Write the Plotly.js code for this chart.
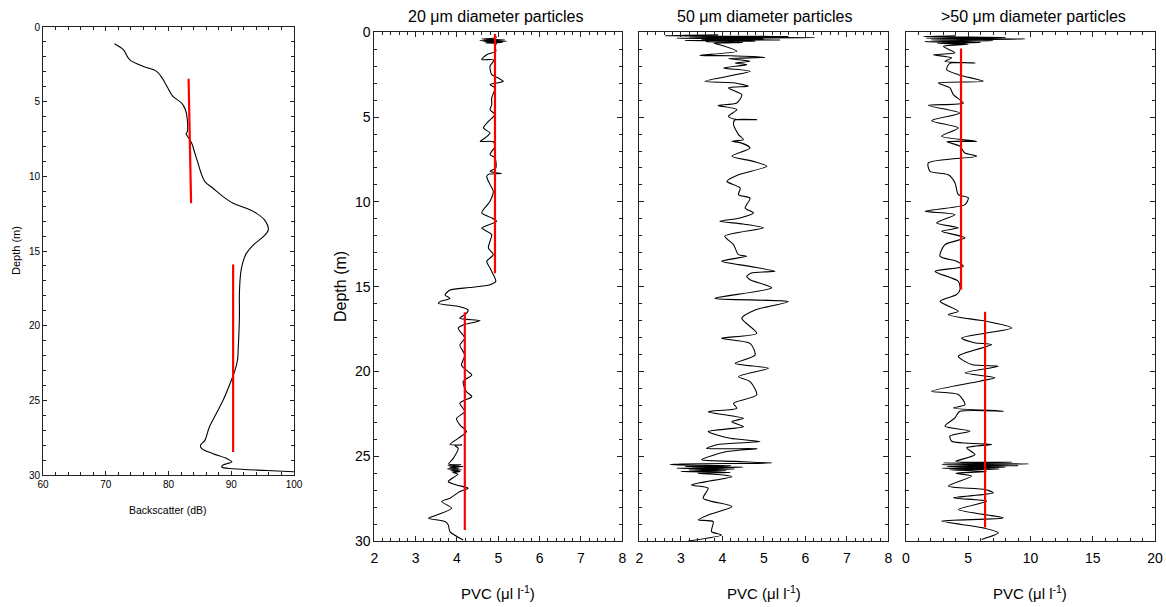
<!DOCTYPE html>
<html>
<head>
<meta charset="utf-8">
<script src="https://cdn.plot.ly/plotly-3.0.1.min.js"></script>
<style>html,body{margin:0;padding:0;background:#fff;} #chart{width:1166px;height:607px;}</style>
</head>
<body>
<div id="chart"></div>
<script>
// ---------------- DATA ----------------
// Panel 1: backscatter profile
const bsDepth = [1.12,1.52,2.19,2.64,2.97,3.42,4.09,4.65,5.10,5.54,6.20,7.00,7.15,7.30,7.78,8.45,9.12,9.79,10.35,10.80,11.36,11.80,12.14,12.47,12.92,13.59,14.04,14.60,15.16,15.83,16.50,17.84,19.40,21.64,22.30,22.98,23.88,25.00,25.90,26.80,27.68,28.00,28.24,28.57,28.90,29.13,29.24,29.35,29.47,29.58,29.70,29.78];
const bsValue = [71.4,72.8,73.8,76.0,78.1,79.0,79.9,80.7,82.1,82.7,83.0,83.0,82.8,83.0,83.7,84.2,84.7,85.2,85.8,87.1,88.7,90.3,92.4,94.0,95.3,95.9,95.1,93.5,92.4,91.8,91.5,91.3,91.3,91.1,91.0,90.6,89.8,88.7,87.6,86.5,85.8,85.1,85.3,87.1,89.3,90.1,89.3,88.6,88.5,90.3,95.6,100.0];
const bsFitTopDepth = [3.47, 11.8];
const bsFitTopValue = [83.2, 83.6];
const bsFitBotDepth = [15.9, 28.46];
const bsFitBotValue = [90.3, 90.3];

// Panel 2: 20 um particles
const d20 = [0.10,0.30,0.40,0.45,0.50,0.53,0.56,0.60,0.63,0.67,
  0.83,1.12,1.32,1.60,1.62,1.71,2.00,2.50,2.69,2.89,
  3.08,3.28,3.87,4.27,4.56,4.85,5.25,5.64,5.94,6.23,
  6.43,6.45,6.72,7.02,7.21,7.41,8.00,8.20,8.33,8.36,
  8.49,8.98,9.37,9.96,10.65,10.94,11.14,11.44,11.54,11.93,
  12.32,12.72,13.11,13.50,13.90,14.29,14.68,14.88,15.05,15.20,
  15.49,15.69,15.88,15.98,16.18,16.37,16.57,16.86,17.00,17.26,
  17.45,18.04,18.44,19.03,19.62,20.01,20.20,20.60,21.19,21.48,
  21.87,22.37,22.76,23.15,23.54,23.94,24.30,24.33,24.36,24.53,
  25.12,25.45,25.50,25.55,25.60,25.65,25.70,25.75,25.80,25.85,
  25.90,25.95,26.05,26.49,26.69,26.88,27.08,27.47,27.67,28.06,
  28.46,28.65,28.85,29.05,29.44,29.93];
const v20 = [4.90,4.95,4.60,5.15,4.55,5.20,4.65,5.10,4.70,4.95,
  4.92,4.94,4.72,4.60,4.88,4.88,4.80,4.84,5.00,5.12,
  4.80,4.92,4.84,4.84,4.80,4.92,4.76,4.64,4.80,4.68,
  4.56,4.88,4.92,4.84,4.80,4.92,4.94,4.80,5.08,4.78,
  4.72,4.80,4.88,4.80,4.60,4.84,4.96,4.68,4.60,4.84,
  4.80,4.76,4.88,4.72,4.80,4.88,4.94,4.80,4.30,3.83,
  3.71,3.83,3.59,3.55,4.07,4.27,4.23,4.07,4.56,4.15,
  4.03,4.19,4.07,4.19,4.11,4.27,4.36,4.15,4.23,4.36,
  4.07,4.19,3.99,4.07,4.23,4.03,3.83,4.12,3.95,4.03,
  3.91,3.80,4.10,3.78,4.15,3.82,4.05,3.77,4.12,3.85,
  4.08,3.90,4.02,3.79,3.99,4.27,4.07,3.83,3.63,3.87,
  3.51,3.31,3.71,3.79,3.83,4.15];
const fit20TopDepth = [0.1, 14.2];
const fit20TopValue = [4.92, 4.92];
const fit20BotDepth = [16.5, 29.35];
const fit20BotValue = [4.19, 4.19];

// Panel 3: 50 um particles
const d50 = [0.15,0.20,0.25,0.28,0.32,0.35,0.38,0.42,0.45,0.48,0.52,0.56,0.60,0.65,
  0.73,1.12,1.36,1.38,1.48,1.55,1.71,1.81,1.91,2.10,
  2.30,2.89,2.99,3.18,3.28,3.68,4.17,4.31,4.56,4.95,
  5.13,5.15,5.17,5.44,6.03,6.33,6.43,6.52,6.82,7.31,
  7.61,7.90,8.40,8.79,9.18,9.58,9.78,10.36,10.65,10.95,
  11.14,11.30,11.53,12.02,12.52,13.11,13.20,13.50,13.80,14.09,
  14.19,14.40,14.59,15.07,15.69,15.88,16.37,16.86,17.75,18.04,
  18.34,19.03,19.52,19.81,20.30,20.60,21.38,21.87,22.17,22.37,
  22.76,22.96,23.25,23.54,23.94,24.13,24.30,24.53,24.55,24.72,
  25.20,25.30,25.40,25.45,25.50,25.55,25.60,25.65,25.70,25.75,
  25.80,25.85,25.90,25.95,26.00,26.10,26.20,26.69,26.88,27.47,
  27.96,28.46,28.75,28.85,29.44,29.64,29.99];
const v50 = [3.90,2.62,5.60,3.20,6.23,2.90,5.00,3.50,5.40,3.10,4.80,3.60,4.50,3.80,
  3.94,4.35,3.46,4.20,5.03,4.15,4.67,4.31,4.59,4.03,
  4.67,3.58,4.31,4.63,4.15,4.47,4.35,3.90,4.35,4.15,
  4.31,4.83,4.30,4.27,4.39,4.51,4.23,4.45,4.67,4.23,
  4.75,5.07,4.39,4.11,4.43,4.39,4.67,4.55,4.75,4.43,
  3.94,4.50,4.99,4.06,4.27,4.39,4.59,3.98,4.67,5.27,
  4.70,4.59,4.67,5.19,3.82,5.59,4.79,4.47,4.83,3.98,
  4.67,4.79,4.31,5.11,4.39,4.67,4.83,4.27,4.35,3.66,
  4.51,4.23,4.51,3.66,4.19,4.91,3.90,3.62,4.85,4.11,
  3.50,4.30,5.19,3.00,2.74,4.20,3.10,4.50,2.90,4.30,
  3.20,4.10,3.00,4.20,3.40,4.00,4.23,3.26,3.66,3.54,
  4.23,3.66,3.42,3.78,3.74,3.98,3.18];

// Panel 4: >50 um particles
const dGt50 = [0.20,0.25,0.30,0.35,0.40,0.45,0.50,0.55,0.60,0.65,0.70,
  0.83,1.22,1.32,1.51,1.71,1.81,1.83,2.20,2.50,2.89,
  2.99,3.28,3.68,4.17,4.31,4.76,5.21,5.64,6.13,6.43,
  6.45,6.72,7.10,7.31,7.70,8.20,8.40,8.88,9.57,9.76,
  10.16,10.55,10.75,11.24,11.53,11.73,12.12,12.52,13.20,13.50,
  13.80,14.10,14.68,15.17,15.46,15.86,16.45,16.65,16.94,17.04,
  17.43,18.02,18.30,18.41,19.10,19.59,19.69,20.08,20.37,20.57,
  21.16,21.36,21.95,22.15,22.34,22.36,22.73,23.22,23.52,23.81,
  24.11,24.30,24.50,24.90,25.30,25.35,25.40,25.45,25.50,25.55,
  25.60,25.65,25.70,25.75,25.80,25.90,26.00,26.17,26.76,26.96,
  27.16,27.45,27.65,28.14,28.63,28.82,29.22,29.51,29.90];
const vGt50 = [4.00,1.40,8.00,1.60,9.56,2.00,7.00,1.50,6.00,2.50,5.00,
  3.00,3.94,2.20,3.67,3.13,5.54,3.50,3.27,4.20,6.21,
  2.60,3.53,3.80,4.60,1.79,4.34,2.06,4.20,2.86,5.68,
  3.30,4.34,4.70,5.68,1.79,1.93,3.40,3.94,4.20,5.00,
  4.74,1.53,3.94,2.46,4.20,2.86,4.74,3.13,2.73,4.07,
  4.60,2.33,4.20,4.34,4.07,2.73,4.20,3.40,5.54,6.48,
  8.49,4.47,5.50,6.88,4.20,5.27,7.42,4.74,7.15,5.94,
  2.06,4.20,4.74,3.80,7.82,4.30,3.94,3.13,5.14,3.53,
  3.67,6.88,4.87,5.54,4.00,8.50,3.00,9.83,2.87,9.00,
  3.30,8.00,2.90,7.50,3.50,6.50,4.00,5.27,3.40,6.35,
  7.01,3.80,6.48,4.20,7.82,2.86,6.21,7.42,6.08];
const fitGt50TopDepth = [0.96, 15.17];
const fitGt50TopValue = [4.42, 4.42];
const fitGt50BotDepth = [16.48, 29.2];
const fitGt50BotValue = [6.35, 6.35];

const panelTitles = ["20 μm diameter particles", "50 μm diameter particles", ">50 μm diameter particles"];
const depthLabel = "Depth (m)";
const bsLabel = "Backscatter (dB)";
const pvcLabel = "PVC (μl l<sup>-1</sup>)";

// ---------------- TRACES ----------------
const FONT = "Liberation Sans, Arial, sans-serif";
const blk = {color:'#000', width:1.1, shape:'spline', smoothing:0.7};
const blkSmooth = {color:'#000', width:1.1, shape:'spline', smoothing:1};
const red = {color:'#ff0000', width:2.2};
function line(x, y, xa, ya, ln){ return {x:x, y:y, xaxis:xa, yaxis:ya, mode:'lines', line:ln, hoverinfo:'skip', showlegend:false}; }

const traces = [
  line(bsValue, bsDepth, 'x', 'y', blkSmooth),
  line(bsFitTopValue, bsFitTopDepth, 'x', 'y', red),
  line(bsFitBotValue, bsFitBotDepth, 'x', 'y', red),
  line(v20, d20, 'x2', 'y2', blk),
  line(fit20TopValue, fit20TopDepth, 'x2', 'y2', red),
  line(fit20BotValue, fit20BotDepth, 'x2', 'y2', red),
  line(v50, d50, 'x3', 'y3', blk),
  line(vGt50, dGt50, 'x4', 'y4', blk),
  line(fitGt50TopValue, fitGt50TopDepth, 'x4', 'y4', red),
  line(fitGt50BotValue, fitGt50BotDepth, 'x4', 'y4', red)
];

// ---------------- LAYOUT ----------------
const W = 1166, H = 607;
function px(x){ return x / W; }
function py(y){ return 1 - y / H; }

function ax(o){
  const base = {showline:true, linecolor:'#222', linewidth:1, mirror:'ticks', ticks:'inside',
    ticklen:5, tickwidth:1, tickcolor:'#222', showgrid:false, zeroline:false, fixedrange:true,
    tickfont:{family:FONT, size:14, color:'#000'}};
  return Object.assign(base, o);
}
function minor(dt, len){ return {ticks:'inside', dtick:dt, ticklen:len, tickcolor:'#222', tickwidth:1, showgrid:false}; }

const small = {family:FONT, size:10, color:'#000'};

const layout = {
  width:W, height:H, margin:{l:0,r:0,t:0,b:0}, paper_bgcolor:'#fff', plot_bgcolor:'#fff',
  showlegend:false,
  xaxis: ax({domain:[px(43), px(294)], range:[60,100], tick0:60, dtick:10, anchor:'y', tickfont:small, ticklen:4, minor:minor(2,3)}),
  yaxis: ax({domain:[py(475), py(27)], range:[30,0], tick0:0, dtick:5, anchor:'x', tickfont:small, ticklen:4, minor:minor(1,3)}),
  xaxis2: ax({domain:[px(374.3), px(622.3)], range:[2,8], tick0:2, dtick:1, anchor:'y2', ticklabelstandoff:4, minor:minor(0.2,3)}),
  yaxis2: ax({domain:[py(541.1), py(32.3)], range:[30,0], tick0:0, dtick:5, anchor:'x2', minor:minor(1,3)}),
  xaxis3: ax({domain:[px(639.3), px(888.3)], range:[2,8], tick0:2, dtick:1, anchor:'y3', ticklabelstandoff:4, minor:minor(0.2,3)}),
  yaxis3: ax({domain:[py(541.1), py(32.3)], range:[30,0], tick0:0, dtick:5, anchor:'x3', showticklabels:false, minor:minor(1,3)}),
  xaxis4: ax({domain:[px(906), px(1155)], range:[0,20], tick0:0, dtick:5, anchor:'y4', ticklabelstandoff:4, minor:minor(1,3)}),
  yaxis4: ax({domain:[py(541.1), py(32.3)], range:[30,0], tick0:0, dtick:5, anchor:'x4', showticklabels:false, minor:minor(1,3)}),
  annotations: [
    {text:panelTitles[0], x:px(496), y:py(17), xref:'paper', yref:'paper', showarrow:false, xanchor:'center', yanchor:'middle', font:{family:FONT, size:16, color:'#000'}},
    {text:panelTitles[1], x:px(765), y:py(17), xref:'paper', yref:'paper', showarrow:false, xanchor:'center', yanchor:'middle', font:{family:FONT, size:16, color:'#000'}},
    {text:panelTitles[2], x:px(1033), y:py(17), xref:'paper', yref:'paper', showarrow:false, xanchor:'center', yanchor:'middle', font:{family:FONT, size:16, color:'#000'}},
    {text:depthLabel, x:px(16), y:py(251), xref:'paper', yref:'paper', showarrow:false, textangle:-90, xanchor:'center', yanchor:'middle', font:{family:FONT, size:11, color:'#000'}},
    {text:bsLabel, x:px(168), y:py(510), xref:'paper', yref:'paper', showarrow:false, xanchor:'center', yanchor:'middle', font:{family:FONT, size:10.5, color:'#000'}},
    {text:depthLabel, x:px(340), y:py(287), xref:'paper', yref:'paper', showarrow:false, textangle:-90, xanchor:'center', yanchor:'middle', font:{family:FONT, size:16, color:'#000'}},
    {text:pvcLabel, x:px(498), y:py(592), xref:'paper', yref:'paper', showarrow:false, xanchor:'center', yanchor:'middle', font:{family:FONT, size:15, color:'#000'}},
    {text:pvcLabel, x:px(764), y:py(592), xref:'paper', yref:'paper', showarrow:false, xanchor:'center', yanchor:'middle', font:{family:FONT, size:15, color:'#000'}},
    {text:pvcLabel, x:px(1030), y:py(592), xref:'paper', yref:'paper', showarrow:false, xanchor:'center', yanchor:'middle', font:{family:FONT, size:15, color:'#000'}}
  ]
};

Plotly.newPlot('chart', traces, layout, {staticPlot:true, displayModeBar:false});
</script>
</body>
</html>
